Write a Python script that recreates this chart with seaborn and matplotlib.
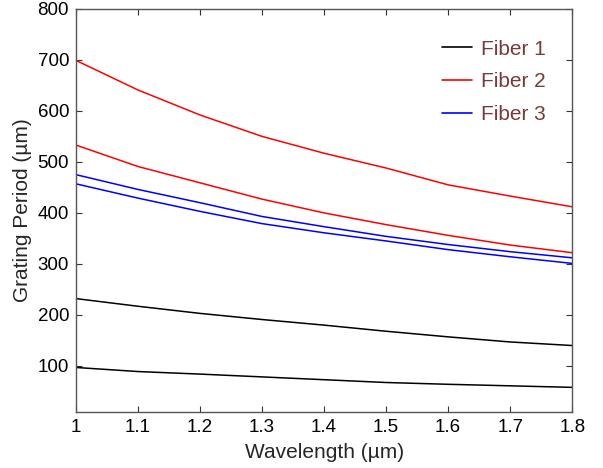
import numpy as np
import pandas as pd
import matplotlib
matplotlib.use("Agg")
import matplotlib.pyplot as plt
import seaborn as sns
from matplotlib.lines import Line2D

wavelength = [1.0, 1.1, 1.2, 1.3, 1.4, 1.5, 1.6, 1.7, 1.8]
fiber1_upper = [232, 217, 203, 191, 180, 168, 157, 147, 140]
fiber1_lower = [97, 89, 84, 78.5, 73, 67.5, 64, 61, 58]
fiber2_upper = [699, 641, 592, 550, 517, 488, 455, 433, 412]
fiber2_lower = [533, 491, 459, 427, 400, 377, 356, 337, 322]
fiber3_upper = [475, 446, 420, 393, 373, 354, 338, 324, 312]
fiber3_lower = [457, 429, 403, 379, 361, 345, 328, 314, 301]
fiber_names = ["Fiber 1", "Fiber 2", "Fiber 3"]
colors = ["black", "red", "blue"]

series = [
    ("Fiber 1", "u", fiber1_upper), ("Fiber 1", "l", fiber1_lower),
    ("Fiber 2", "u", fiber2_upper), ("Fiber 2", "l", fiber2_lower),
    ("Fiber 3", "u", fiber3_upper), ("Fiber 3", "l", fiber3_lower),
]
rows = []
for name, br, vals in series:
    for x, y in zip(wavelength, vals):
        rows.append({"wl": x, "period": y, "fiber": name, "branch": name + br})
df = pd.DataFrame(rows)

sns.set_theme(style="white")
plt.rcParams["font.family"] = ["Liberation Sans", "DejaVu Sans"]

fig = plt.figure(figsize=(6.03, 4.68), dpi=100)
ax = fig.add_axes([0.126, 0.12, 0.823, 0.861])

sns.lineplot(data=df, x="wl", y="period", hue="fiber", units="branch",
             estimator=None, palette=dict(zip(fiber_names, colors)),
             linewidth=1.1, legend=False, ax=ax)

ax.set_xlim(1.0, 1.8)
ax.set_ylim(10, 800)
ax.set_xticks([1.0, 1.1, 1.2, 1.3, 1.4, 1.5, 1.6, 1.7, 1.8])
ax.set_xticklabels(["1", "1.1", "1.2", "1.3", "1.4", "1.5", "1.6", "1.7", "1.8"])
ax.set_yticks([100, 200, 300, 400, 500, 600, 700, 800])
ax.tick_params(direction="in", length=4, width=0.8, colors="#333333",
               labelcolor="black", labelsize=13.5, top=True, right=True,
               bottom=True, left=True, pad=5)
for s in ax.spines.values():
    s.set_color("#555555")
    s.set_linewidth(1.0)

ax.set_xlabel("Wavelength (µm)", fontsize=15, labelpad=5)
ax.set_ylabel("Grating Period (µm)", fontsize=15, labelpad=4)

handles = [Line2D([0], [0], color=c, lw=1.2) for c in colors]
leg = ax.legend(handles, fiber_names, loc="upper right", frameon=False,
                fontsize=15, handlelength=1.45, handletextpad=0.45,
                labelspacing=0.65, bbox_to_anchor=(0.985, 0.97))
for t in leg.get_texts():
    t.set_color("#7a3a3a")

fig.savefig("out.png", dpi=100)
